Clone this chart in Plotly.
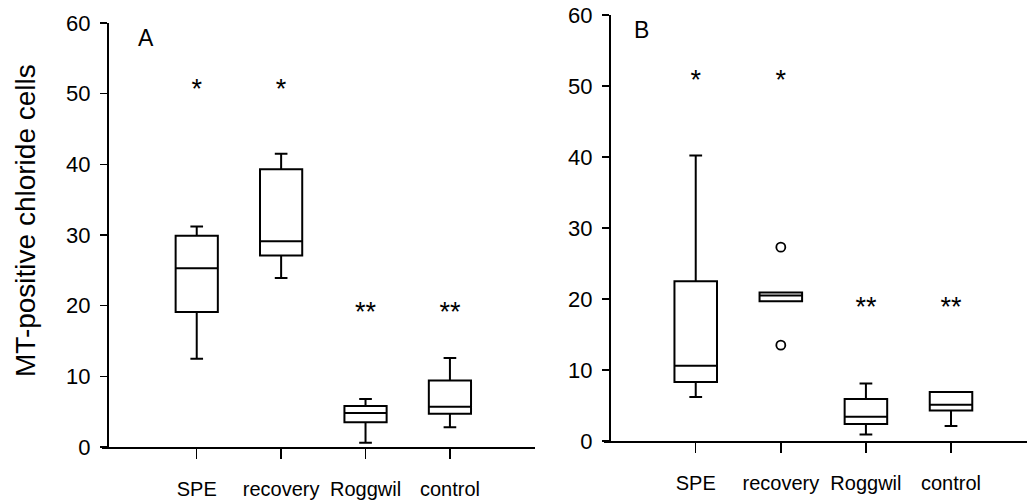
import plotly.graph_objects as go

categories = ["SPE", "recovery", "Roggwil", "control"]
positions = [0, 1, 2, 3]

# Panel A (box statistics)
a_lower = [12.5, 23.9, 0.6, 2.8]
a_q1 = [19.1, 27.1, 3.5, 4.7]
a_median = [25.3, 29.1, 4.8, 5.7]
a_q3 = [29.9, 39.3, 5.8, 9.4]
a_upper = [31.2, 41.5, 6.8, 12.6]

# Panel B
b_lower = [6.2, 19.7, 0.9, 2.1]
b_q1 = [8.3, 19.7, 2.4, 4.3]
b_median = [10.6, 20.5, 3.4, 5.1]
b_q3 = [22.5, 20.9, 5.9, 6.9]
b_upper = [40.2, 20.9, 8.1, 6.9]
b_outlier_pos = [1, 1]
b_outliers = [27.3, 13.5]

# Significance markers
sig_labels = ["*", "*", "**", "**"]
a_sig_y = [50.4, 50.4, 18.8, 18.8]
b_sig_y = [50.5, 50.5, 18.6, 18.6]

yticks = [0, 10, 20, 30, 40, 50, 60]

W, H = 1028, 501


def px(x):
    return x / W


def py(y):
    return 1 - y / H


FAM = "Liberation Sans, Arial, sans-serif"
TICKFONT = dict(family=FAM, size=22, color="black")
CATFONT = dict(family=FAM, size=20, color="black")

fig = go.Figure()

box_style = dict(width=0.5, whiskerwidth=0.3, line=dict(color="black", width=2),
                 fillcolor="white", boxpoints=False, showlegend=False, hoverinfo="skip")

fig.add_trace(go.Box(x=positions, q1=a_q1, median=a_median, q3=a_q3,
                     lowerfence=a_lower, upperfence=a_upper,
                     xaxis="x", yaxis="y", **box_style))
fig.add_trace(go.Box(x=positions, q1=b_q1, median=b_median, q3=b_q3,
                     lowerfence=b_lower, upperfence=b_upper,
                     xaxis="x2", yaxis="y2", **box_style))
fig.add_trace(go.Scatter(x=b_outlier_pos, y=b_outliers, mode="markers",
                         marker=dict(symbol="circle-open", size=9, color="black", line=dict(width=1.8)),
                         xaxis="x2", yaxis="y2", showlegend=False))

star_font = dict(family=FAM, size=27, color="black")
fig.add_trace(go.Scatter(x=positions, y=a_sig_y, mode="text", text=sig_labels,
                         textfont=star_font, textposition="middle center",
                         xaxis="x", yaxis="y", showlegend=False))
fig.add_trace(go.Scatter(x=positions, y=b_sig_y, mode="text", text=sig_labels,
                         textfont=star_font, textposition="middle center",
                         xaxis="x2", yaxis="y2", showlegend=False))


def xaxis_cfg(domain, rng, anchor):
    return dict(domain=domain, range=rng, anchor=anchor, tickmode="array",
                tickvals=positions, ticktext=categories, ticks="outside", ticklen=10,
                tickwidth=1.5, tickcolor="black", showline=True, linewidth=2,
                linecolor="black", showgrid=False, zeroline=False, tickfont=CATFONT,
                tickangle=0, ticklabelstandoff=13, ticklabeloverflow="allow",
                automargin=False, fixedrange=True)


def yaxis_cfg(domain, pos):
    return dict(domain=domain, range=[0, 60], anchor="free", position=pos,
                tickmode="array", tickvals=yticks, ticks="outside", ticklen=7,
                tickwidth=1.5, tickcolor="black", showline=True, linewidth=2,
                linecolor="black", showgrid=False, zeroline=False, tickfont=TICKFONT,
                ticklabelstandoff=5, ticklabeloverflow="allow",
                automargin=False, fixedrange=True)


fig.update_layout(
    template="none",
    width=W, height=H,
    margin=dict(l=0, r=0, t=0, b=0, pad=0, autoexpand=False),
    paper_bgcolor="white", plot_bgcolor="white",
    showlegend=False,
    hovermode=False,
    xaxis=xaxis_cfg([px(101.7), px(535)], [-1.126, 4.008], "y"),
    yaxis=yaxis_cfg([py(447), py(23)], px(108)),
    xaxis2=xaxis_cfg([px(604), px(1027)], [-1.078, 3.893], "y2"),
    yaxis2=yaxis_cfg([py(441), py(15)], px(610)),
    annotations=[
        dict(text="MT-positive chloride cells", textangle=-90, x=px(25), y=py(221),
             xref="paper", yref="paper", showarrow=False, xanchor="center", yanchor="middle",
             font=dict(family=FAM, size=28, color="black")),
        dict(text="A", x=px(146), y=py(37.7), xref="paper", yref="paper", showarrow=False,
             xanchor="center", yanchor="middle", font=dict(family=FAM, size=23, color="black")),
        dict(text="B", x=px(641.7), y=py(30), xref="paper", yref="paper", showarrow=False,
             xanchor="center", yanchor="middle", font=dict(family=FAM, size=23, color="black")),
    ],
)

# remove the default page margin so the figure sits at the window's top-left corner
fig.write_html("out.html",
               config={"displayModeBar": False, "staticPlot": True},
               post_script="document.body.style.margin='0';document.body.style.overflow='hidden';")
